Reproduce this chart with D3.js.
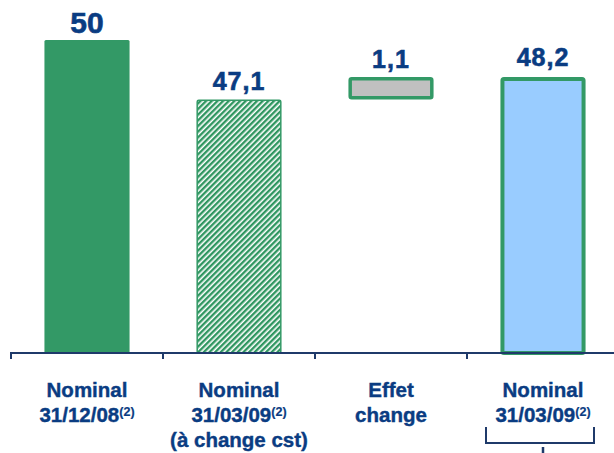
<!DOCTYPE html>
<html>
<head>
<meta charset="utf-8">
<script src="https://cdn.jsdelivr.net/npm/d3@7"></script>
<style>
  html, body { margin: 0; padding: 0; background: #fff; }
  svg { display: block; font-family: "Liberation Sans", Arial, sans-serif; }
</style>
</head>
<body>
<svg id="chart" width="614" height="453"></svg>
<script>
// Categories (line 1, line 2 with superscript note, optional line 3)
const categories = ["nom1208", "nom0309cst", "effet", "nom0309"];
const labelLine1 = ["Nominal", "Nominal", "Effet", "Nominal"];
const labelLine2 = ["31/12/08", "31/03/09", "change", "31/03/09"];
const labelNote = ["(2)", "(2)", "", "(2)"];
const labelLine3 = ["", "(à change cst)", "", ""];

// Bar extents (start, end) in billions, and the value labels
const barStart = [null, null, 47.1, null];
const barEnd = [50, 47.1, 48.2, 48.2];
const valueLabels = ["50", "47,1", "1,1", "48,2"];

// Value at which the (broken) axis sits
const axisBaseValue = 34.73;

const navy = "#0a3c82";
const green = "#339966";

const svg = d3.select("#chart");

const x = d3.scaleBand()
  .domain(categories)
  .range([11, 619])
  .paddingInner(0.44)
  .paddingOuter(0.22);

const y = d3.scaleLinear()
  .domain([axisBaseValue, 50])
  .range([353, 40]);

// Hatch pattern for the constant-rate bar
const defs = svg.append("defs");
const pat = defs.append("pattern")
  .attr("id", "hatch")
  .attr("patternUnits", "userSpaceOnUse")
  .attr("width", 4).attr("height", 4)
  .attr("patternTransform", "rotate(45)");
pat.append("rect").attr("width", 4).attr("height", 4).attr("fill", "#fff");
pat.append("rect").attr("width", 2.4).attr("height", 4).attr("fill", "#2f9660");

const styles = [
  { fill: green, stroke: "none", sw: 0 },
  { fill: "url(#hatch)", stroke: green, sw: 1.5 },
  { fill: "#c0c0c0", stroke: green, sw: 3.5 },
  { fill: "#99ccff", stroke: green, sw: 4 }
];

const bars = categories.map((c, i) => ({
  c, i,
  lo: barStart[i] === null ? axisBaseValue : barStart[i],
  hi: barEnd[i]
}));

const barW = x.bandwidth();

svg.append("g").selectAll("rect")
  .data(bars)
  .join("rect")
  .attr("x", d => x(d.c) + styles[d.i].sw / 2)
  .attr("y", d => y(d.hi) + styles[d.i].sw / 2)
  .attr("width", d => barW - styles[d.i].sw)
  .attr("height", d => y(d.lo) - y(d.hi) - styles[d.i].sw / 2 - (barStart[d.i] === null ? 0 : styles[d.i].sw / 2))
  .attr("rx", 1.5)
  .attr("fill", d => styles[d.i].fill)
  .attr("stroke", d => styles[d.i].stroke)
  .attr("stroke-width", d => styles[d.i].sw);

// Value labels
svg.append("g").selectAll("text")
  .data(bars)
  .join("text")
  .attr("x", d => x(d.c) + barW / 2)
  .attr("y", d => y(d.hi) - (d.i === 0 ? 7 : d.i === 3 ? 11 : 9))
  .attr("text-anchor", "middle")
  .attr("fill", navy)
  .attr("stroke", navy)
  .attr("stroke-width", 0.6)
  .attr("font-weight", "bold")
  .attr("font-size", d => d.i === 0 ? 30 : 25)
  .attr("letter-spacing", d => d.i === 0 ? 0 : 1)
  .text(d => valueLabels[d.i]);

// Axis with ticks between categories
const axisY = 353;
const gAxis = svg.append("g").attr("transform", `translate(0,${axisY})`);
gAxis.append("line")
  .attr("x1", 11).attr("x2", 614)
  .attr("stroke", "#1f3a6a").attr("stroke-width", 2);
const tickXs = categories.map(c => x(c) - x.step() * x.paddingInner() / 2);
tickXs[0] = 11;
gAxis.selectAll("line.tick")
  .data(tickXs)
  .join("line")
  .attr("class", "tick")
  .attr("x1", d => d).attr("x2", d => d)
  .attr("y1", -1).attr("y2", 6)
  .attr("stroke", "#1f3a6a").attr("stroke-width", 2);

// Category labels
const lab = svg.append("g").selectAll("g")
  .data(bars)
  .join("g")
  .attr("transform", d => `translate(${x(d.c) + barW / 2},0)`)
  .attr("fill", navy)
  .attr("stroke", navy)
  .attr("stroke-width", 0.4)
  .attr("font-weight", "bold")
  .attr("text-anchor", "middle");

const fs = 20.5;
lab.append("text")
  .attr("y", 397)
  .attr("font-size", fs)
  .text(d => labelLine1[d.i]);

const l2 = lab.append("text")
  .attr("y", 422)
  .attr("font-size", fs);
l2.append("tspan").text(d => labelLine2[d.i]);
l2.append("tspan")
  .attr("font-size", 12.5)
  .attr("stroke-width", 0.2)
  .attr("dy", -6)
  .text(d => labelNote[d.i]);

lab.append("text")
  .attr("y", 447)
  .attr("font-size", fs)
  .text(d => labelLine3[d.i]);

// Bracket under the last category
const bx = x(categories[3]) + barW / 2;
svg.append("path")
  .attr("d", `M${bx - 57},427 V443 H${bx + 51} V427`)
  .attr("fill", "none")
  .attr("stroke", "#1f3a6a")
  .attr("stroke-width", 2);
svg.append("line")
  .attr("x1", bx).attr("x2", bx)
  .attr("y1", 447).attr("y2", 453)
  .attr("stroke", "#1f3a6a")
  .attr("stroke-width", 2.5);
</script>
</body>
</html>
